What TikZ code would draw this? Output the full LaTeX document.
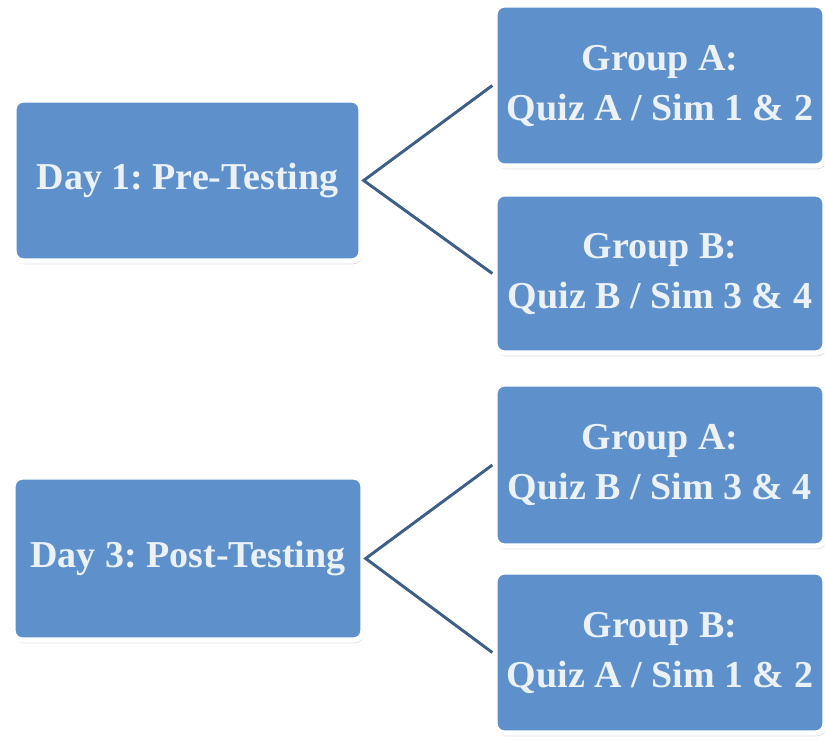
\documentclass[tikz,border=0pt]{standalone}
\usepackage{fontspec}
\setmainfont{Liberation Serif}
\frenchspacing
\usetikzlibrary{positioning, shadows}
\definecolor{boxblue}{RGB}{94,145,204}
\definecolor{linkblue}{RGB}{62,94,138}
\definecolor{boxtext}{RGB}{236,241,248}

\begin{document}
\begin{tikzpicture}[x=0.75pt, y=-0.75pt,
    stagebox/.style={rectangle, rounded corners=7pt, fill=boxblue, draw=white,
      line width=4pt, text=boxtext, align=center, inner sep=0pt,
      font=\fontsize{28.5}{37.5}\selectfont\bfseries,
      drop shadow={opacity=0.25, shadow xshift=1pt, shadow yshift=-2.5pt}},
    link/.style={draw=linkblue, line width=2.2pt}]
      \useasboundingbox (0,0) rectangle (825,742); % whole page
      % day 1
      \node[stagebox, minimum width=347*0.75pt, minimum height=161*0.75pt] (day1) at (187.5,180.5) {Day 1: Pre-Testing};
      \node[stagebox, minimum width=330*0.75pt, minimum height=161*0.75pt] (day1a) at (660,85.5) {Group A:\\Quiz A / Sim 1 \& 2};
      \node[stagebox, minimum width=330*0.75pt, minimum height=159*0.75pt] (day1b) at (660,273.5) {Group B:\\Quiz B / Sim 3 \& 4};
      % day 3
      \node[stagebox, minimum width=350*0.75pt, minimum height=163*0.75pt] (day3) at (188,558.5) {Day 3: Post-Testing};
      \node[stagebox, minimum width=330*0.75pt, minimum height=162*0.75pt] (day3a) at (660,465) {Group A:\\Quiz B / Sim 3 \& 4};
      \node[stagebox, minimum width=330*0.75pt, minimum height=161*0.75pt] (day3b) at (660,652.5) {Group B:\\Quiz A / Sim 1 \& 2};
      \draw[link] (day1a.west) -- (day1.east) -- (day1b.west);
      \draw[link] (day3a.west) -- (day3.east) -- (day3b.west);
    \end{tikzpicture}
\end{document}
